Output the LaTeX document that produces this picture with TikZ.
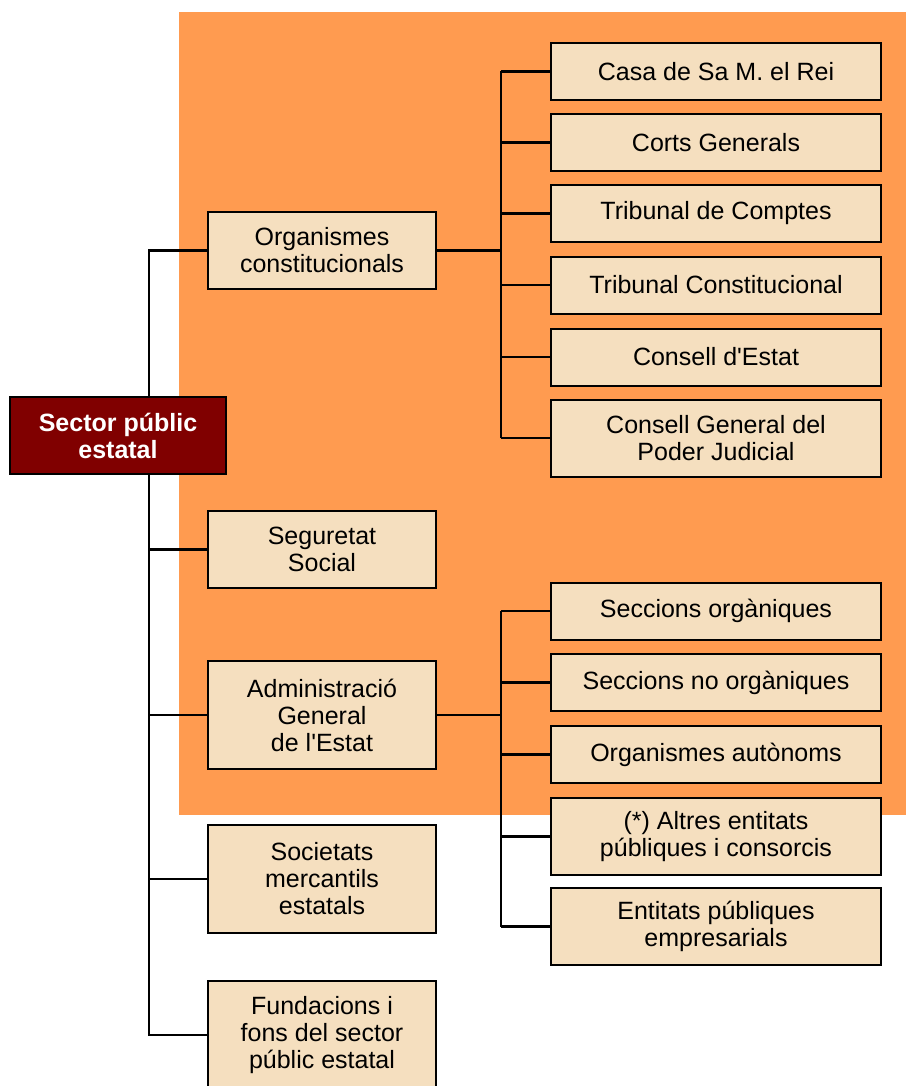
\documentclass[tikz,border=0pt]{standalone}
\usepackage{fontspec}
\setmainfont{Liberation Sans}
\definecolor{taronja}{HTML}{FF9B50}
\definecolor{crema}{HTML}{F5DFBF}
\definecolor{granat}{HTML}{800000}
\newcommand{\apos}{\textquotesingle}
\tikzset{
  caixa/.style={draw=black, line width=1pt, fill=crema, align=center,
    inner sep=0pt, font=\fontsize{12.5}{13.5}\selectfont},
  nivell1/.style={caixa, minimum width=114pt},
  nivell2/.style={caixa, minimum width=165pt},
  arrel/.style={caixa, fill=granat, text=white, minimum width=108pt,
    minimum height=38.5pt, font=\bfseries\fontsize{12.5}{13.5}\selectfont},
  linia/.style={line width=1.1pt}
}
\begin{document}
\begin{tikzpicture}[x=0.5pt,y=-0.5pt]
\useasboundingbox (0,0) rectangle (906,1086);
%fons
\fill[taronja] (179,12) rectangle (906,815);
%eixos
\coordinate (tronc) at (149,0);
\coordinate (bus) at (501,0);
%primer nivell
\node[nivell1, minimum height=38.5pt] (org) at (322,250.5) {Organismes\\constitucionals};
\node[nivell1, minimum height=38.5pt] (ss) at (322,549.5) {Seguretat\\Social};
\node[nivell1, minimum height=54pt] (age) at (322,715) {Administració\\General\\de l\apos Estat};
\node[nivell1, minimum height=54pt] (soc) at (322,879) {Societats\\mercantils\\estatals};
\node[nivell1, minimum height=54pt] (fund) at (322,1035) {Fundacions i\\fons del sector\\públic estatal};
%organismes constitucionals
\foreach \y/\h/\t [count=\i] in {71.5/28.5/{Casa de Sa M. el Rei},
    142.5/28.5/{Corts Generals}, 213.5/28.5/{Tribunal de Comptes},
    285/28.5/{Tribunal Constitucional}, 357/28.5/{Consell d\apos Estat},
    438/38.5/{Consell General del\\Poder Judicial}}
  \node[nivell2, minimum height=\h pt] (oc\i) at (716,\y) {\t};
%administració
\foreach \y/\h/\t [count=\i] in {611/28.5/{Seccions orgàniques},
    682.5/28.5/{Seccions no orgàniques}, 754.5/28.5/{Organismes autònoms},
    836.5/38.5/{(*) Altres entitats\\públiques i consorcis},
    926.5/38.5/{Entitats públiques\\empresarials}}
  \node[nivell2, minimum height=\h pt] (ag\i) at (716,\y) {\t};
%connexions
\draw[linia] (org.west) -- (org.west -| tronc) -- (fund.west -| tronc) -- (fund.west);
\foreach \n in {ss,age,soc}
  \draw[linia] (\n.west) -- (\n.west -| tronc);
\draw[linia] (org.east) -- (org.east -| bus);
\draw[linia] (oc1.west -| bus) -- (oc6.west -| bus);
\foreach \i in {1,...,6}
  \draw[linia] (oc\i.west) -- (oc\i.west -| bus);
\draw[linia] (age.east) -- (age.east -| bus);
\draw[linia] (ag1.west -| bus) -- (ag5.west -| bus);
\foreach \i in {1,...,5}
  \draw[linia] (ag\i.west) -- (ag\i.west -| bus);
%arrel
\node[arrel] (sector) at (118,435.5) {Sector públic\\estatal};
\end{tikzpicture}
\end{document}
